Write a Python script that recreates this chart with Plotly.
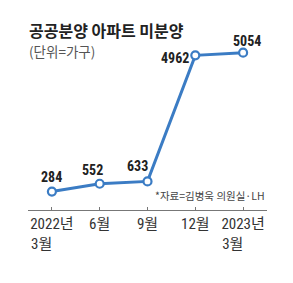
import plotly.graph_objects as go

categories = ["2022-03", "2022-06", "2022-09", "2022-12", "2023-03"]
tick_labels = ["2022년<br>3월\u00a0\u00a0\u00a0\u00a0\u00a0\u00a0", "6월", "9월", "12월", "2023년<br>3월\u00a0\u00a0\u00a0\u00a0\u00a0\u00a0"]
values = [284, 552, 633, 4962, 5054]
label_dx = [0, -7, -10, -20, 4]
label_dy = [-15, -14, -15, 3, -12]

blue = "#3b7cc4"
num_font = "Liberation Sans Narrow, Roboto Condensed, Liberation Sans, Arial"
kfont = "Noto Sans CJK KR, Noto Sans"

# y scale: 34.37 units per pixel (from reference), plot from y=40px to y=210px
fig = go.Figure()
fig.add_trace(go.Scatter(
    x=list(range(len(categories))), y=values, mode="lines+markers",
    line=dict(color=blue, width=3),
    marker=dict(size=8, color="white", line=dict(color=blue, width=2.2)),
    hoverinfo="skip", cliponaxis=False,
))

for i, v in enumerate(values):
    fig.add_annotation(x=i, y=v, text=f"<b>{v}</b>", showarrow=False,
                       xshift=label_dx[i], yshift=-label_dy[i],
                       font=dict(family=num_font, size=14, color="#222"))

fig.add_annotation(x=1, xref="paper", xanchor="right", yref="y",
                   y=values[0] - (195 - 191.5) * 34.37, yanchor="middle",
                   text="*자료=김병욱 의원실·LH", showarrow=False,
                   font=dict(family=kfont, size=10.5, color="#444"))

fig.add_annotation(xref="paper", yref="paper", x=-1/239, y=1 + 10/170,
                   xanchor="left", yanchor="middle", showarrow=False,
                   text="<b>공공분양 아파트 미분양</b>",
                   font=dict(family=kfont, size=16, color="#222"))
fig.add_annotation(xref="paper", yref="paper", x=-1/239, y=1 - 11/170,
                   xanchor="left", yanchor="middle", showarrow=False,
                   text="(단위=가구)",
                   font=dict(family=kfont, size=13.5, color="#555"))

fig.update_layout(
    width=293, height=283,
    margin=dict(l=28, r=26, t=40, b=73),
    paper_bgcolor="white", plot_bgcolor="white",
    showlegend=False,
    xaxis=dict(range=[-0.5, 4.5], tickmode="array", tickvals=list(range(len(categories))),
               ticktext=tick_labels, showgrid=False, zeroline=False,
               showline=True, linecolor="#777", linewidth=1,
               ticks="inside", ticklen=3, tickcolor="#777",
               tickfont=dict(family=num_font + ", " + kfont, size=15, color="#333")),
    yaxis=dict(range=[-350, 5490], visible=False, showgrid=False, zeroline=False),
)

fig.write_html("out.html")
